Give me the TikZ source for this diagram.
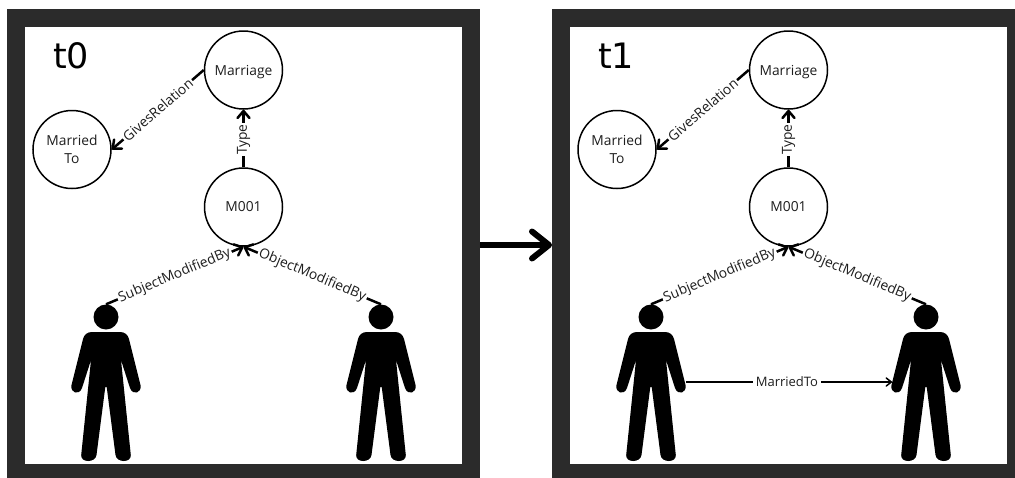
\documentclass[tikz,border=0pt]{standalone}
\usepackage{fontspec}
\setmainfont{Open Sans}
\newfontfamily\stampfont{DejaVu Sans}
\usetikzlibrary{arrows.meta}
\definecolor{framegray}{HTML}{2B2B2B}
\definecolor{inkgray}{HTML}{1E1E1E}
\tikzset{
  x=1pt,y=-1pt,
  frame/.style={draw=framegray,line width=18pt,fill=white,rectangle,inner sep=0pt,minimum width=455pt,minimum height=455pt},
  concept/.style={circle,draw=black,line width=1.5pt,fill=white,minimum size=78pt,inner sep=0pt,align=center,
    font=\fontsize{13.8}{18}\selectfont,text=inkgray},
  link/.style={line width=2.5pt,-{Straight Barb[length=7pt,width=12pt,round]}},
  lbl/.style={fill=white,inner sep=1.5pt,sloped,font=\fontsize{13.8}{15}\selectfont,text=inkgray},
  stamp/.style={font=\stampfont\fontsize{35}{40}\selectfont,text=black,inner sep=0pt},
  person/.pic={
    \fill[black] (-14,332) -- (14,332) .. controls (19,332) and (22,335) .. (23,339)
      -- (34.5,385) .. controls (36,393) and (27,396) .. (24,388) -- (15,360)
      -- (24.8,455) .. controls (25.5,463) and (10.5,463) .. (9.5,455) -- (0.7,387)
      -- (-0.7,387) -- (-9.5,455) .. controls (-10.5,463) and (-25.5,463) .. (-24.8,455)
      -- (-15,360) -- (-24,388) .. controls (-27,396) and (-36,393) .. (-34.5,385)
      -- (-23,339) .. controls (-22,335) and (-19,332) .. (-14,332) -- cycle;
    \node[circle,fill=black,minimum size=25pt,inner sep=0pt] (head) at (0,317) {};
  }
}
\begin{document}
\begin{tikzpicture}
\useasboundingbox (0,0) rectangle (1015,477);
\clip (0,0) rectangle (1015,477);
\fill[white] (0,0) rectangle (1015,477);
\node[frame] (f0) at (243.5,245.5) {};
\node[frame] (f1) at (788.5,245.5) {};

% left panel
\node[stamp] (t0) at (71,56) {t0};
\node[concept,text depth=0pt] (a1) at (243.5,70) {Marriage};
\node[concept] (a2) at (72,149.5) {Married\\To};
\node[concept] (a3) at (243.5,207) {M001};
\pic (pa) at (106,0) {person};
\pic (pb) at (381,0) {person};
\draw[link] (a1.west) -- node[lbl] {GivesRelation} (a2.east);
\draw[link] (a3.north) -- node[lbl,pos=.48] {Type} (a1.south);
\draw[link] (pahead.north) -- node[lbl] {SubjectModifiedBy} (a3.south);
\draw[link] (pbhead.north) -- node[lbl] {ObjectModifiedBy} (a3.south);

% right panel
\node[stamp] (t1) at (616,56) {t1};
\node[concept,text depth=0pt] (b1) at (788.5,70) {Marriage};
\node[concept] (b2) at (617,149.5) {Married\\To};
\node[concept] (b3) at (788.5,207) {M001};
\pic (pc) at (651,0) {person};
\pic (pd) at (926,0) {person};
\draw[link] (b1.west) -- node[lbl] {GivesRelation} (b2.east);
\draw[link] (b3.north) -- node[lbl,pos=.48] {Type} (b1.south);
\draw[link] (pchead.north) -- node[lbl] {SubjectModifiedBy} (b3.south);
\draw[link] (pdhead.north) -- node[lbl] {ObjectModifiedBy} (b3.south);
\coordinate (armc) at (686,382);
\coordinate (armd) at (892,382);
\draw[line width=1.5pt,-{Straight Barb[length=5pt,width=8pt,round]}] (armc) -- node[lbl,inner sep=3pt,font=\fontsize{13}{15}\selectfont,pos=.49] {MarriedTo} (armd);

% transition arrow
\draw[line width=6pt,-{Straight Barb[length=17pt,width=27pt,round]}] (f0.east |- 0,245) -- (f1.west |- 0,245);
\end{tikzpicture}
\end{document}
